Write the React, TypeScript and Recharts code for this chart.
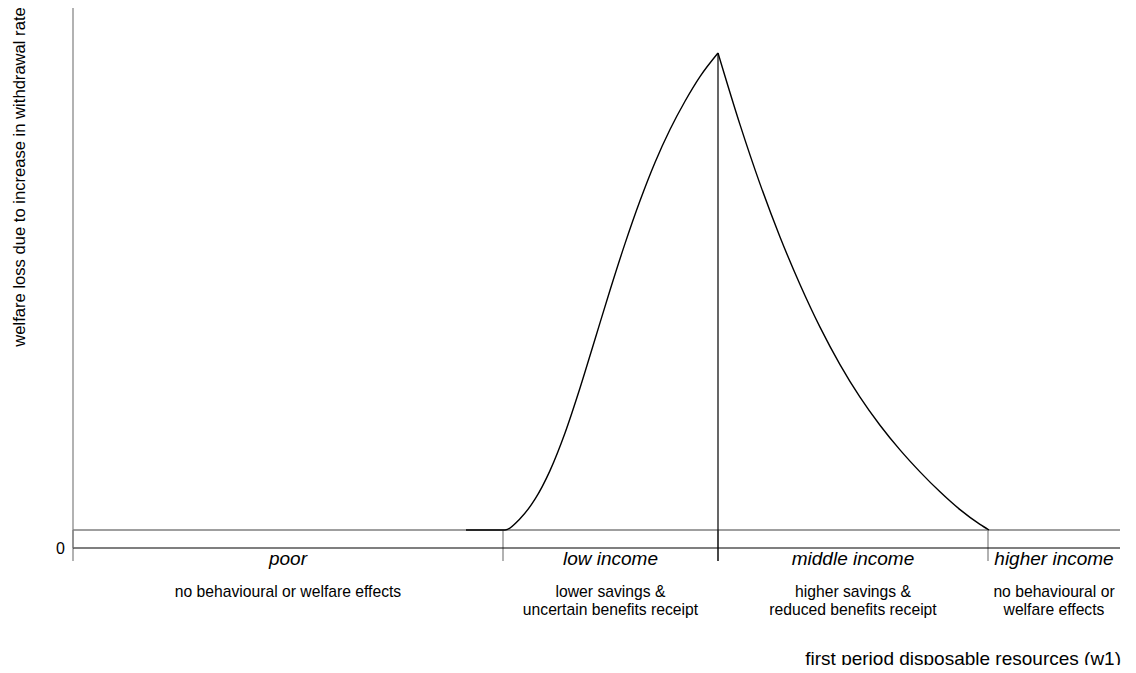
import React from 'react';
import { LineChart, Line, XAxis, YAxis, ReferenceLine, Label } from 'recharts';

// first period disposable resources (w1), arbitrary units
const W1 = [393, 432, 447, 462, 477, 492, 507, 522, 537, 552, 567, 582, 597, 612, 627, 645, 667, 687, 707, 727, 747, 767, 787, 807, 827, 847, 867, 887, 907, 916];
// welfare loss due to increase in withdrawal rate, arbitrary units
const LOSS = [1.0, 1.0, 1.63, 2.71, 4.3, 6.39, 8.89, 11.6, 14.32, 16.91, 19.29, 21.42, 23.25, 24.82, 26.19, 27.5, 23.52, 20.23, 17.28, 14.64, 12.27, 10.19, 8.38, 6.82, 5.45, 4.23, 3.12, 2.13, 1.31, 1.0];

const BASE_LEVEL = 1.0;
const PEAK_W1 = 645;
const PEAK_LOSS = 27.5;
const X_MAX = 1047;
const Y_MAX = 30;
const Y_TICKS = [0];
const BOUNDARIES = [0, 430, 645, 915, X_MAX];
const REGION_NAMES = ['poor', 'low income', 'middle income', 'higher income'];
const REGION_NOTES = [
  ['no behavioural or welfare effects'],
  ['lower savings &', 'uncertain benefits receipt'],
  ['higher savings &', 'reduced benefits receipt'],
  ['no behavioural or', 'welfare effects'],
];
const X_TITLE = 'first period disposable resources (w1)';
const Y_TITLE = 'welfare loss due to increase in withdrawal rate';

// split at the peak so each side is smoothed independently and the cusp stays sharp
const data = W1.map((w, i) => ({
  w1: w,
  rise: w <= PEAK_W1 ? LOSS[i] : undefined,
  fall: w >= PEAK_W1 ? LOSS[i] : undefined,
}));
const REGION_MIDS = REGION_NAMES.map((_, i) => (BOUNDARIES[i] + BOUNDARIES[i + 1]) / 2);
const TICK_DROP = -0.72;

const FONT = '"Liberation Sans", Arial, Helvetica, sans-serif';
const GRAY = '#7f7f7f';

const RegionTick = (props: any) => {
  const { x, y, payload } = props;
  const i = REGION_MIDS.findIndex((m) => Math.abs(m - payload.value) < 1e-6);
  if (i < 0) return null;
  return (
    <g>
      <text x={x} y={y + 15.5} textAnchor="middle" fontStyle="italic" fontSize={19} fill="#000" fontFamily={FONT}>
        {REGION_NAMES[i]}
      </text>
      {REGION_NOTES[i].map((line, k) => (
        <text key={k} x={x} y={y + 48 + k * 18} textAnchor="middle" fontSize={15.7} fill="#000" fontFamily={FONT}>
          {line}
        </text>
      ))}
    </g>
  );
};

const XTitle = (props: any) => {
  const vb = props.viewBox || {};
  return (
    <text x={vb.x + vb.width + 1} y={vb.y + 116} textAnchor="end" fontSize={19} fill="#000" fontFamily={FONT}>
      {X_TITLE}
    </text>
  );
};

const YTitle = (props: any) => {
  const vb = props.viewBox || {};
  const cx = vb.x + 25;
  const cy = vb.y + 169;
  return (
    <text x={cx} y={cy} transform={`rotate(-90 ${cx} ${cy})`} textAnchor="middle" fontSize={16.6} fill="#000" fontFamily={FONT}>
      {Y_TITLE}
    </text>
  );
};

export default function App() {
  return (
    <div style={{ margin: -8, width: 1136, height: 673, background: '#fff' }}>
      <LineChart width={1136} height={673} data={data} margin={{ top: 8, right: 16, left: 0, bottom: 54 }}>
        <XAxis
          dataKey="w1"
          type="number"
          domain={[0, X_MAX]}
          ticks={BOUNDARIES.slice(0, 4)}
          tickFormatter={() => ''}
          tickLine={false}
          axisLine={{ stroke: '#000', strokeWidth: 1.2 }}
          height={1}
          tickSize={0}
          allowDataOverflow
        />
        <XAxis
          xAxisId="regions"
          dataKey="w1"
          type="number"
          domain={[0, X_MAX]}
          allowDataOverflow
          ticks={REGION_MIDS}
          interval={0}
          tick={<RegionTick />}
          tickLine={false}
          axisLine={false}
          tickSize={0}
          tickMargin={0}
          height={70}
        >
          <Label content={<XTitle />} />
        </XAxis>
        <YAxis
          type="number"
          domain={[0, Y_MAX]}
          ticks={Y_TICKS}
          width={73}
          tickLine={false}
          axisLine={{ stroke: GRAY, strokeWidth: 1.2 }}
          tick={{ fill: '#000', fontSize: 16, fontFamily: FONT }}
          tickSize={6}
          tickMargin={2}
        >
          <Label content={<YTitle />} />
        </YAxis>
        <ReferenceLine y={BASE_LEVEL} stroke={GRAY} strokeWidth={1.3} />
        {BOUNDARIES.slice(0, 4).map((b) => (
          <ReferenceLine
            key={b}
            segment={[{ x: b, y: BASE_LEVEL }, { x: b, y: TICK_DROP }]}
            stroke={GRAY}
            strokeWidth={1.2}
            ifOverflow="visible"
          />
        ))}
        <ReferenceLine
          segment={[{ x: PEAK_W1, y: PEAK_LOSS }, { x: PEAK_W1, y: TICK_DROP }]}
          stroke="#000"
          strokeWidth={1.2}
          ifOverflow="visible"
        />
        <Line dataKey="rise" type="monotone" stroke="#000" strokeWidth={1.4} dot={false} connectNulls={false} isAnimationActive={false} />
        <Line dataKey="fall" type="monotone" stroke="#000" strokeWidth={1.4} dot={false} connectNulls={false} isAnimationActive={false} />
      </LineChart>
    </div>
  );
}
